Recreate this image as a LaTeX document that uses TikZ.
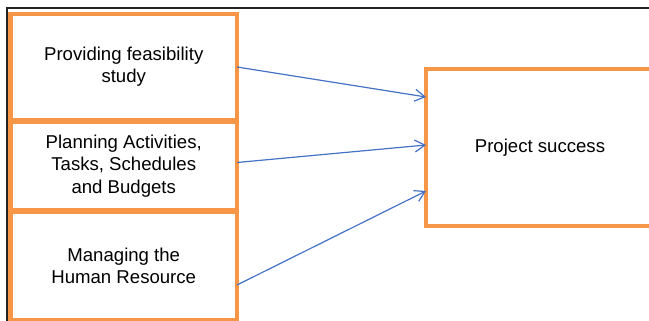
\documentclass[tikz,border=0pt]{standalone}
\usepackage{fontspec}
\setmainfont{Liberation Sans}
\usetikzlibrary{arrows.meta}
\definecolor{boxorange}{RGB}{247,150,70}
\definecolor{arrowblue}{RGB}{68,114,196}
\definecolor{frameline}{RGB}{35,35,35}
\begin{document}
\begin{tikzpicture}[x=1pt,y=-1pt,
  box/.style={draw=boxorange, line width=4.5pt, fill=white, outer sep=0pt, inner sep=2pt,
    align=center, font=\fontsize{18.6}{22.3}\selectfont},
  link/.style={draw=arrowblue, line width=1.2pt, -{Straight Barb[length=10pt,width=12pt,line width=1.2pt]}}
]
\useasboundingbox (0,0) rectangle (649,321);
\draw[frameline, line width=1.6pt] (7,321) -- (7,8) -- (649,8);
\node[box, minimum width=226.5pt, minimum height=106pt] (b1) at (123.75,67) {Providing feasibility\\study};
\node[box, minimum width=226.5pt, minimum height=88pt] (b2) at (123.75,166) {Planning Activities,\\Tasks, Schedules\\and Budgets};
\node[box, minimum width=226.5pt, minimum height=108pt] (b3) at (123.75,266) {Managing the\\Human Resource};
\node[box, minimum width=228pt, minimum height=157pt] (ps) at (540,147.5) {Project success};
\draw[link] (b1.east) -- ([yshift=50.5pt]ps.west);
\draw[link] ([yshift=3.5pt]b2.east) -- ([yshift=2.5pt]ps.west);
\draw[link] ([yshift=-19pt]b3.east) -- ([yshift=-43.5pt]ps.west);
\end{tikzpicture}
\end{document}
